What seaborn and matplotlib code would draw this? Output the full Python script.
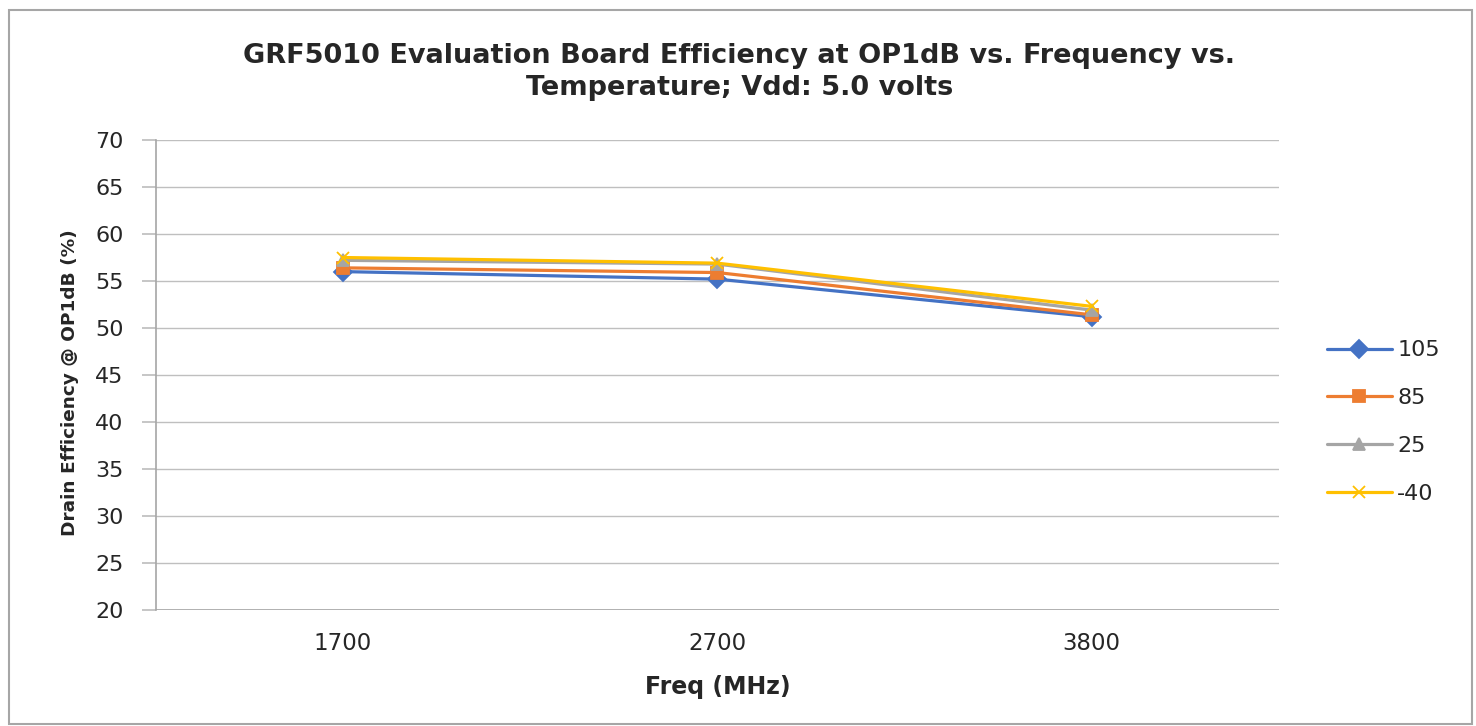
import numpy as np
import pandas as pd
import seaborn as sns
import matplotlib.pyplot as plt
from matplotlib.lines import Line2D
from matplotlib.patches import Rectangle

# データ
freqs = ["1700", "2700", "3800"]
temps = ["105", "85", "25", "-40"]
eff_105 = [56.0, 55.2, 51.2]
eff_85 = [56.4, 55.9, 51.4]
eff_25 = [57.2, 56.8, 51.9]
eff_m40 = [57.5, 56.9, 52.3]

colors = ["#4472C4", "#ED7D31", "#A5A5A5", "#FFC000"]
markers = ["D", "s", "^", "x"]

df = pd.DataFrame({
    "freq": freqs * 4,
    "temp": np.repeat(temps, 3),
    "eff": eff_105 + eff_85 + eff_25 + eff_m40,
})

sns.set_theme(style="white")
plt.rcParams["font.family"] = ["DejaVu Sans"]

fig = plt.figure(figsize=(14.76, 7.26), dpi=100)
ax = fig.add_axes([155.7 / 1476, 116 / 726, (1279 - 155.7) / 1476, 470 / 726])

# 系列ごとに描く（塗りマーカーと線マーカーが混在するため）
for t, c, m in zip(temps, colors, markers):
    sns.lineplot(data=df[df["temp"] == t], x="freq", y="eff", color=c,
                 marker=m, markersize=9, markeredgecolor=c, markeredgewidth=1.3,
                 linewidth=2.3, sort=False, ax=ax)

ax.set_xlim(-0.5, 2.5)
ax.set_ylim(20, 70)
ax.set_yticks(np.arange(20, 71, 5))
ax.yaxis.grid(True, color="#BFBFBF", linewidth=1)
ax.set_axisbelow(True)
for s in ["top", "right", "bottom"]:
    ax.spines[s].set_visible(False)
ax.spines["left"].set_color("#A6A6A6")
ax.spines["left"].set_linewidth(1.2)
ax.axhline(20, color="#A6A6A6", linewidth=1.2, zorder=1)
ax.tick_params(axis="y", length=10, color="#BFBFBF", labelsize=16, pad=13, left=True)
ax.tick_params(axis="x", length=0, labelsize=16.5, pad=16)
ax.set_xlabel("Freq (MHz)", fontsize=17, fontweight="bold", labelpad=14)
ax.set_ylabel("Drain Efficiency @ OP1dB (%)", fontsize=13.3, fontweight="bold", labelpad=12)
ax.yaxis.label.set_y(0.483)

fig.text(0.501, (726 - 72) / 726,
         "GRF5010 Evaluation Board Efficiency at OP1dB vs. Frequency vs.\nTemperature; Vdd: 5.0 volts",
         ha="center", va="center", fontsize=19.5, fontweight="bold", linespacing=1.3)

handles = [Line2D([], [], color=c, marker=m, linewidth=2.3, markersize=9,
                  markeredgecolor=c, markeredgewidth=1.3) for c, m in zip(colors, markers)]
fig.legend(handles, temps, loc="center left", bbox_to_anchor=(1316 / 1476, (726 - 422) / 726),
           frameon=False, fontsize=16, handlelength=2.9, handletextpad=0.25,
           labelspacing=1.25, borderpad=0)

fig.patches.append(Rectangle((9 / 1476, 2 / 726), 1463 / 1476, 714 / 726,
                             transform=fig.transFigure, fill=False,
                             edgecolor="#A6A6A6", linewidth=1.5))

fig.savefig("out.png", dpi=100)
